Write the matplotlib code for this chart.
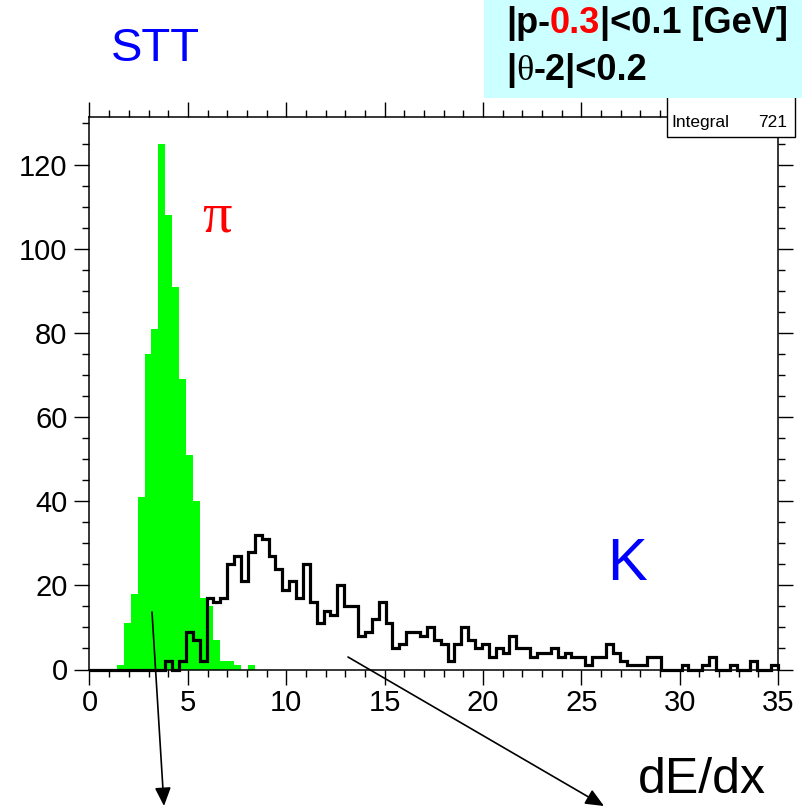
import numpy as np
import matplotlib
matplotlib.use('Agg')
import matplotlib.pyplot as plt
from matplotlib.patches import Rectangle, FancyArrowPatch
from matplotlib.ticker import MultipleLocator

# 100 bins from 0 to 35 (dE/dx)
edges = np.linspace(0, 35, 101)

# pion histogram (green, filled)
pion = [0, 0, 0, 0, 1, 11, 18, 41, 75, 81,
        125, 108, 91, 69, 51, 40, 17, 15, 7, 2,
        2, 1, 0, 1, 0, 0, 0, 0, 0, 0,
        0, 0, 0, 0, 0, 0, 0, 0, 0, 0,
        0, 0, 0, 0, 0, 0, 0, 0, 0, 0,
        0, 0, 0, 0, 0, 0, 0, 0, 0, 0,
        0, 0, 0, 0, 0, 0, 0, 0, 0, 0,
        0, 0, 0, 0, 0, 0, 0, 0, 0, 0,
        0, 0, 0, 0, 0, 0, 0, 0, 0, 0,
        0, 0, 0, 0, 0, 0, 0, 0, 0, 0]

# kaon histogram (black outline), integral 721
kaon = [0, 0, 0, 0, 0, 0, 0, 0, 0, 0,
        0, 2, 0, 2, 9, 7, 2, 17, 16, 17,
        25, 27, 21, 28, 32, 31, 27, 24, 19, 21,
        17, 25, 16, 11, 14, 13, 20, 15, 15, 8,
        9, 12, 16, 11, 5, 6, 9, 9, 8, 10,
        7, 6, 2, 6, 10, 7, 5, 6, 3, 5,
        4, 8, 5, 5, 3, 4, 4, 5, 3, 4,
        3, 3, 1, 3, 3, 6, 4, 2, 1, 1,
        1, 3, 3, 0, 0, 0, 1, 0, 0, 1,
        3, 0, 0, 1, 0, 0, 2, 0, 0, 1]

W, H = 803, 808
plt.rcParams['font.family'] = ['Liberation Sans', 'DejaVu Sans']
fig = plt.figure(figsize=(W / 100, H / 100), dpi=100)


def fx(x):
    return x / W


def fy(y):
    return 1 - y / H


ax = fig.add_axes([fx(89.5), fy(669.5), (778 - 89.5) / W, (669.5 - 117.3) / H])
ax.stairs(pion, edges, fill=True, color='#00ff00', lw=0)
ax.stairs(kaon, edges, color='black', lw=2.3, clip_on=False, zorder=3)
ax.set_xlim(0, 35)
ax.set_ylim(0, 1.05 * max(pion))

ax.xaxis.set_major_locator(MultipleLocator(5))
ax.xaxis.set_minor_locator(MultipleLocator(1))
ax.yaxis.set_major_locator(MultipleLocator(20))
ax.yaxis.set_minor_locator(MultipleLocator(5))
ax.tick_params(which='both', direction='out', top=True, right=True,
               width=1.0, labelsize=21)
ax.tick_params(which='major', length=10.8)
ax.tick_params(which='minor', length=5)
ax.tick_params(axis='x', pad=3)
ax.tick_params(axis='y', pad=5)
for sp in ax.spines.values():
    sp.set_linewidth(1.1)

# stats box
fig.add_artist(Rectangle((fx(667), fy(137)), (795 - 667) / W, (137 - 90) / H,
                         transform=fig.transFigure, facecolor='white',
                         edgecolor='black', lw=1.0, zorder=2))
fig.text(fx(671), fy(127), 'Integral', fontsize=12.5, va='baseline', zorder=3)
fig.text(fx(787), fy(127), '721', fontsize=12.5, va='baseline', ha='right', zorder=3)

# cyan cut box
fig.add_artist(Rectangle((fx(484), fy(98)), (W - 484) / W, 98 / H,
                         transform=fig.transFigure, facecolor='#ccffff',
                         edgecolor='none', zorder=4))

renderer = fig.canvas.get_renderer()


def rich(x, y, parts):
    for s, kw in parts:
        t = fig.text(fx(x), fy(y), s, va='baseline', zorder=5, **kw)
        x += t.get_window_extent(renderer).width * W / fig.bbox.width


b = dict(fontsize=26, fontweight='bold')
rich(506, 33, [('|p-', b), ('0.3', dict(b, color='red')), ('|<0.1 [GeV]', b)])
rich(506, 80, [('|', b), ('θ', dict(fontsize=26, family='Liberation Serif')),
               ('-2|<0.2', b)])

fig.text(fx(111), fy(61), 'STT', fontsize=34, color='blue', va='baseline')
fig.text(fx(607), fy(580), 'K', fontsize=43, color='blue', va='baseline')
fig.text(fx(202), fy(232), 'π', fontsize=42, color='red', va='baseline',
         family='Liberation Serif')
fig.text(fx(638), fy(793), 'dE/dx', fontsize=36, va='baseline')

# arrows
for (x0, y0), (x1, y1) in [((152, 612), (164, 806)), ((348, 657), (604, 806))]:
    fig.add_artist(FancyArrowPatch((fx(x0), fy(y0)), (fx(x1), fy(y1)),
                                   transform=fig.transFigure,
                                   arrowstyle='-|>,head_length=0.8,head_width=0.35',
                                   mutation_scale=14, color='black', lw=1.2,
                                   shrinkA=0, shrinkB=0, zorder=6))

fig.savefig('out.png', dpi=100)
